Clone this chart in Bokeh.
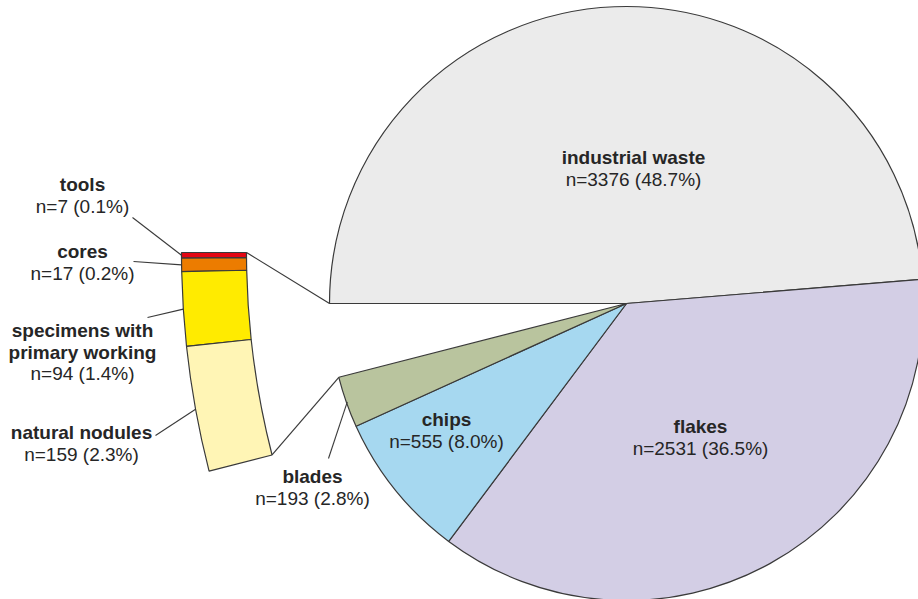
import numpy as np
from bokeh.plotting import figure
from bokeh.models import Range1d
from bokeh.embed import file_html
from bokeh.resources import INLINE
from bokeh.core.properties import value

# ---------------- data ----------------
pie_names = ["industrial waste", "flakes", "chips", "blades"]
pie_counts = [3376, 2531, 555, 193]
pie_colors = ["#ebebeb", "#d3cee5", "#a6d8f0", "#b9c49e"]

bar_names = ["tools", "cores", "specimens with\nprimary working", "natural nodules"]
bar_counts = [7, 17, 94, 159]
bar_colors = ["#e30613", "#ec7c00", "#ffeb00", "#fff5b5"]

# ---------------- layout (reference pixel space, y measured downward) ----------------
W, H = 918, 599
def Y(yref):
    return H - yref

PIE_C = (626, Y(303))
PIE_R = 297
BAR_C = (1061, Y(252))
BAR_R_IN, BAR_R_OUT = 815, 880

TXT_DY = -6
pie_label_pos = [(633, 163), (700, 432), (446, 425), (312, 482)]
bar_label_pos = [(82, 190), (82, 257), (82, 336), (81, 438)]
bar_leader_end = [(132, 217), (133, 261), (147, 317), (155, 435)]
blade_leader_end = (328, 458)
LINE = 21.5

total = sum(pie_counts) + sum(bar_counts)
def lab(n):
    return f"n={n} ({100.0 * n / total:.1f}%)"

p = figure(width=W, height=H, output_backend="svg", toolbar_location=None,
           x_range=Range1d(0, W), y_range=Range1d(0, H),
           x_axis_location=None, y_axis_location=None, min_border=0)
p.grid.visible = False
p.outline_line_color = None
p.background_fill_color = "white"

EDGE = "#3a3a3a"

# ---------------- pie (clockwise from 180 deg) ----------------
fr = np.array(pie_counts) / total
cum = np.concatenate([[0], np.cumsum(fr)])
starts = 180 - 360 * cum[1:]
ends = 180 - 360 * cum[:-1]
p.wedge(x=[PIE_C[0]] * 4, y=[PIE_C[1]] * 4, radius=PIE_R,
        start_angle=list(starts), end_angle=list(ends), start_angle_units="deg",
        end_angle_units="deg", fill_color=pie_colors, line_color=EDGE, line_width=1.2)

other_span = 360 * (1 - cum[-1])   # remaining slice shown as bar

# ---------------- bar of pie (annular sector with the same angular span) ----------------
bfr = np.array(bar_counts) / sum(bar_counts)
bcum = np.concatenate([[0], np.cumsum(bfr)])
b_start = 180 + other_span * bcum[:-1]
b_end = 180 + other_span * bcum[1:]
p.annular_wedge(x=[BAR_C[0]] * 4, y=[BAR_C[1]] * 4, inner_radius=BAR_R_IN,
                outer_radius=BAR_R_OUT, start_angle=list(b_start), end_angle=list(b_end),
                start_angle_units="deg", end_angle_units="deg",
                fill_color=bar_colors, line_color=EDGE, line_width=1.2)

def pol(c, r, ang):
    a = np.radians(ang)
    return c[0] + r * np.cos(a), c[1] + r * np.sin(a)

# connectors
a_top, a_bot = 180.0, 180.0 + other_span
x0a, y0a = pol(BAR_C, BAR_R_IN, a_top)
x1a, y1a = pol(PIE_C, PIE_R, a_top)
x0b, y0b = pol(BAR_C, BAR_R_IN, a_bot)
x1b, y1b = pol(PIE_C, PIE_R, a_bot)
p.segment(x0=[x0a, x0b], y0=[y0a, y0b], x1=[x1a, x1b], y1=[y1a, y1b],
          line_color=EDGE, line_width=1.2)

# leaders for bar segments
lx0, ly0, lx1, ly1 = [], [], [], []
for i in range(4):
    mid = (b_start[i] + b_end[i]) / 2
    bx, by = pol(BAR_C, BAR_R_OUT, mid)
    lx0.append(bar_leader_end[i][0]); ly0.append(Y(bar_leader_end[i][1]))
    lx1.append(bx); ly1.append(by)
# leader for blades
bl_mid = (starts[3] + ends[3]) / 2
bx, by = pol(PIE_C, PIE_R - 1, bl_mid)
lx0.append(blade_leader_end[0]); ly0.append(Y(blade_leader_end[1]))
lx1.append(bx); ly1.append(by)
p.segment(x0=lx0, y0=ly0, x1=lx1, y1=ly1, line_color=EDGE, line_width=1.1)

# ---------------- labels ----------------
TXT = "#262626"
bx_, by_, bt = [], [], []
rx_, ry_, rt = [], [], []
def add_label(name, n, pos):
    lines = name.split("\n")
    x, y0 = pos
    y0 = y0 + TXT_DY
    for k, ln in enumerate(lines):
        bx_.append(x); by_.append(Y(y0 + k * LINE)); bt.append(ln)
    rx_.append(x); ry_.append(Y(y0 + len(lines) * LINE)); rt.append(lab(n))

for nm, n, pos in zip(pie_names, pie_counts, pie_label_pos):
    add_label(nm, n, pos)
for nm, n, pos in zip(bar_names, bar_counts, bar_label_pos):
    add_label(nm, n, pos)

common = dict(text_font=value("Liberation Sans"), text_font_size="19px",
              text_align="center", text_baseline="alphabetic", text_color=TXT)
p.text(x=bx_, y=by_, text=bt, text_font_style="bold", **common)
p.text(x=rx_, y=ry_, text=rt, **common)

open("out.html", "w").write(file_html(p, INLINE))
